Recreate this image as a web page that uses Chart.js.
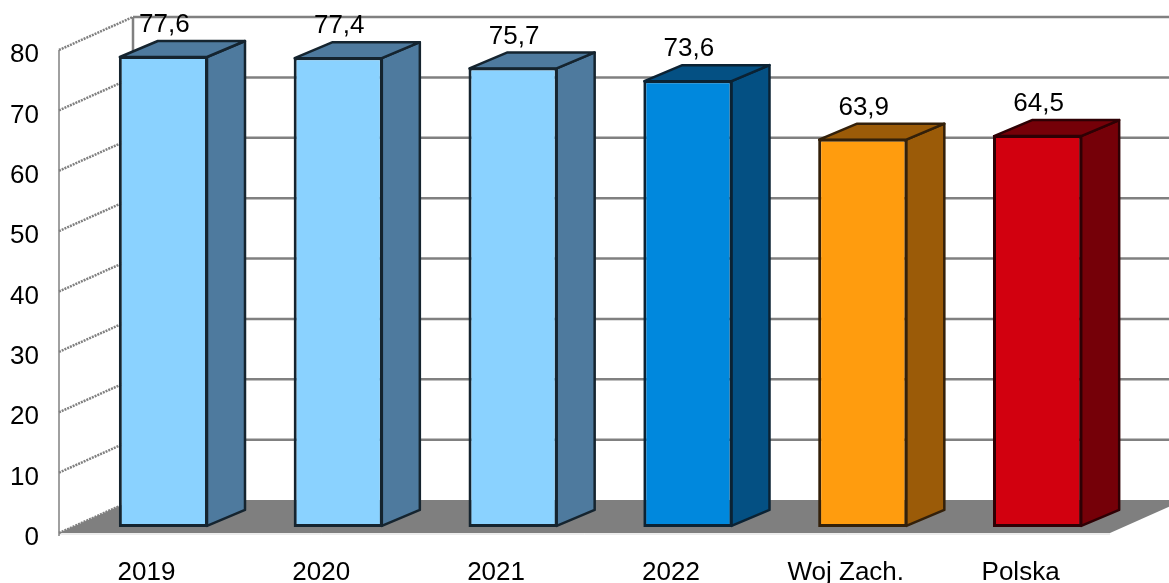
<!DOCTYPE html>
<html>
<head>
<meta charset="utf-8">
<script src="https://cdn.jsdelivr.net/npm/chart.js@4"></script>
<style>
  html, body { margin: 0; background: #fff; overflow: hidden; }
  canvas { display: block; }
</style>
</head>
<body>
<canvas id="barChart" width="1169" height="583"></canvas>
<script>
const categories = ['2019', '2020', '2021', '2022', 'Woj Zach.', 'Polska']
const values = [77.6, 77.4, 75.7, 73.6, 63.9, 64.5]
const yTicks = [0, 10, 20, 30, 40, 50, 60, 70, 80]

const frontColors = ['#8AD2FF', '#8AD2FF', '#8AD2FF', '#0088DD', '#FF9C0E', '#D2000F']
const sideColors = ['#4E7A9E', '#4E7A9E', '#4E7A9E', '#045083', '#9B5B08', '#750008']
const edgeColors = ['#15242F', '#15242F', '#15242F', '#0B2233', '#33200A', '#2E0004']

// depth of the walls and of a bar, in px
const wall = { dx: 74, dy: -33 }
const bar = { shiftX: 17, shiftY: -8.5, dx: 38, dy: -16 }

const FONT = '"Liberation Sans", Arial, sans-serif'

function poly(ctx, pts, fill, stroke) {
  ctx.beginPath()
  pts.forEach((p, i) => i ? ctx.lineTo(p[0], p[1]) : ctx.moveTo(p[0], p[1]))
  ctx.closePath()
  ctx.fillStyle = fill
  ctx.fill()
  if (stroke) {
    ctx.strokeStyle = stroke
    ctx.lineWidth = 2.5
    ctx.lineJoin = 'round'
    ctx.stroke()
  }
}

const box3d = {
  id: 'box3d',
  beforeDatasetsDraw(chart) {
    const { ctx, chartArea: a, scales: { y } } = chart
    ctx.save()
    // floor
    poly(ctx, [[a.left, a.bottom], [a.right + 2, a.bottom], [a.right + 2 + wall.dx, a.bottom + wall.dy], [a.left + wall.dx, a.bottom + wall.dy]], '#7F7F7F')
    ctx.strokeStyle = '#DADADA'
    ctx.lineWidth = 1
    ctx.beginPath()
    ctx.moveTo(a.left, a.bottom + 1)
    ctx.lineTo(a.right + 2, a.bottom + 1)
    ctx.stroke()
    // back wall
    ctx.strokeStyle = '#808080'
    ctx.lineWidth = 2.5
    yTicks.slice(1).forEach(t => {
      const py = y.getPixelForValue(t) + wall.dy
      ctx.beginPath()
      ctx.moveTo(a.left + wall.dx, py)
      ctx.lineTo(a.right + 2 + wall.dx, py)
      ctx.stroke()
    })
    ctx.beginPath()
    ctx.moveTo(a.left + wall.dx, a.top + wall.dy)
    ctx.lineTo(a.left + wall.dx, a.bottom + wall.dy)
    ctx.stroke()
    // left wall
    ctx.lineWidth = 1.5
    ctx.beginPath()
    ctx.moveTo(a.left, a.top)
    ctx.lineTo(a.left, a.bottom + 3)
    ctx.stroke()
    ctx.setLineDash([2, 1])
    ctx.lineWidth = 2.5
    yTicks.forEach(t => {
      const py = y.getPixelForValue(t)
      ctx.beginPath()
      ctx.moveTo(a.left, py)
      ctx.lineTo(a.left + wall.dx, py + wall.dy)
      ctx.stroke()
    })
    ctx.restore()
  },
  beforeDatasetDraw(chart, args) {
    const { ctx } = chart
    ctx.save()
    ctx.translate(bar.shiftX, bar.shiftY)
    // side and top of every bar, from the bar elements themselves
    args.meta.data.forEach((el, i) => {
      const l = el.x - el.width / 2, r = el.x + el.width / 2
      poly(ctx, [[r - 1, el.y + 1], [r - 1 + bar.dx, el.y + 1 + bar.dy], [r - 1 + bar.dx, el.base - 1 + bar.dy], [r - 1, el.base - 1]], sideColors[i], edgeColors[i])
      poly(ctx, [[l + 1, el.y + 1], [l + 1 + bar.dx, el.y + 1 + bar.dy], [r - 1 + bar.dx, el.y + 1 + bar.dy], [r - 1, el.y + 1]], sideColors[i], edgeColors[i])
    })
  },
  afterDatasetDraw(chart) {
    chart.ctx.restore()
  },
  afterDatasetsDraw(chart) {
    const { ctx } = chart
    const meta = chart.getDatasetMeta(0)
    ctx.save()
    ctx.font = '26px ' + FONT
    ctx.fillStyle = '#000'
    ctx.textAlign = 'center'
    ctx.textBaseline = 'middle'
    meta.data.forEach((el, i) => {
      ctx.fillText(String(values[i]).replace('.', ','), el.x + bar.shiftX + 1, el.y + bar.shiftY - 31)
    })
    ctx.restore()
  }
}

new Chart(document.getElementById('barChart').getContext('2d'), {
  type: 'bar',
  data: {
    labels: categories,
    datasets: [{
      data: values,
      base: -0.4,
      backgroundColor: frontColors,
      borderColor: edgeColors,
      borderWidth: 3,
      borderSkipped: false,
      barPercentage: 0.51,
      categoryPercentage: 1,
      clip: false
    }]
  },
  options: {
    responsive: false,
    animation: false,
    layout: { padding: { top: 50, right: 61, left: 0, bottom: 0 } },
    plugins: { legend: { display: false }, tooltip: { enabled: false } },
    scales: {
      x: {
        grid: { display: false },
        border: { display: false },
        afterFit(s) { s.height = 50 },
        ticks: {
          color: '#000',
          font: { family: FONT, size: 26 },
          padding: 16,
          maxRotation: 0,
          autoSkip: false
        }
      },
      y: {
        min: 0,
        max: 80,
        grid: { display: false },
        border: { display: false },
        afterFit(s) { s.width = 59 },
        afterBuildTicks(s) { s.ticks = yTicks.map(v => ({ value: v })) },
        ticks: {
          color: '#000',
          font: { family: FONT, size: 26 },
          padding: 12,
          labelOffset: 5
        }
      }
    }
  },
  plugins: [box3d]
})
</script>
</body>
</html>
